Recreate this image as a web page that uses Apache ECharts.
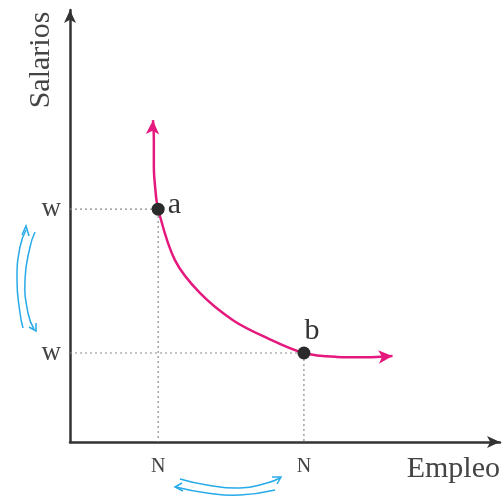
<!DOCTYPE html>
<html>
<head>
<meta charset="utf-8">
<script src="https://cdn.jsdelivr.net/npm/echarts@6/dist/echarts.min.js"></script>
<style>
  html, body { margin: 0; padding: 0; background: #fff; }
  #chart { width: 504px; height: 500px; }
</style>
</head>
<body>
<div id="chart"></div>
<script>
// demand curve (employment, wage)
const curveX = [19.3, 19.5, 19.5, 19.8, 20.5, 24.4, 30.2, 37.9, 45.8, 54.4, 62.1, 68.6, 75.0];
const curveY = [74.5, 69.9, 63.7, 59.0, 53.9, 42.1, 34.5, 28.2, 24.1, 20.6, 19.7, 19.6, 19.9];

// the two equilibrium points
const pointNames = ["a", "b"];
const pointX = [20.5, 54.4];
const pointY = [53.9, 20.6];

// tick labels
const yTickLabels = ["w", "w"];
const xTickLabels = ["N", "N"];

const serif = "Liberation Serif";
const pink = "#e5197d";
const blue = "#27aae8";

let chart = echarts.init(document.getElementById("chart"));

let curve = curveX.map((x, i) => [x, curveY[i]]);
let n = curve.length;

// guide lines from each point to the axes
let guides = pointNames.map((name, i) => ({
  type: "line",
  data: [[0, pointY[i]], [pointX[i], pointY[i]], [pointX[i], 0]],
  symbol: "none",
  silent: true,
  lineStyle: { color: "#8a8a8a", width: 1.2, type: [2, 3] },
  z: 1,
}));

// label placement for a and b
let pointLabels = [
  { position: "right", distance: 3, offset: [0, -4] },
  { position: "top", distance: 0, offset: [8, 0] },
];

chart.setOption({
  animation: false,
  grid: { left: 70, right: 4, top: 10, bottom: 58 },
  xAxis: {
    type: "value",
    min: 0,
    max: 100,
    splitLine: { show: false },
    axisTick: { show: false },
    axisLine: {
      show: true,
      symbol: ["none", "arrow"],
      symbolSize: [9, 13],
      lineStyle: { color: "#333", width: 2.5 },
    },
    axisLabel: {
      customValues: pointX,
      formatter: (v) => xTickLabels[pointX.indexOf(v)] || "",
      color: "#444",
      fontFamily: serif,
      fontSize: 20,
      margin: 15,
    },
  },
  yAxis: {
    type: "value",
    min: 0,
    max: 100,
    splitLine: { show: false },
    axisTick: { show: false },
    axisLine: {
      show: true,
      symbol: ["none", "arrow"],
      symbolSize: [9, 13],
      lineStyle: { color: "#333", width: 2.5 },
    },
    axisLabel: {
      customValues: pointY,
      formatter: (v) => yTickLabels[pointY.indexOf(v)] || "",
      color: "#444",
      fontFamily: serif,
      fontSize: 27,
      margin: 9,
    },
  },
  series: [
    ...guides,
    {
      type: "line",
      data: curve,
      smooth: 0.35,
      symbol: "none",
      lineStyle: { color: pink, width: 2.5 },
      z: 2,
    },
    {
      // arrow heads at both ends of the curve
      type: "scatter",
      data: [
        { value: curve[0], symbolRotate: -2 },
        { value: curve[n - 1], symbolRotate: -86 },
      ],
      symbol: "arrow",
      symbolSize: [10, 14],
      itemStyle: { color: pink, opacity: 1 },
      z: 3,
    },
    {
      type: "scatter",
      data: pointNames.map((name, i) => ({
        name: name,
        value: [pointX[i], pointY[i]],
        label: pointLabels[i],
      })),
      symbolSize: 13,
      itemStyle: { color: "#2b2b2b", opacity: 1 },
      label: {
        show: true,
        formatter: "{b}",
        fontFamily: serif,
        fontSize: 30,
        color: "#333",
      },
      z: 4,
    },
  ],
  graphic: [
    {
      type: "text",
      x: 41,
      y: 60,
      rotation: Math.PI / 2,
      style: {
        text: "Salarios",
        font: "30px 'Liberation Serif'",
        fill: "#444",
        align: "center",
        verticalAlign: "middle",
      },
    },
    {
      type: "text",
      x: 500,
      y: 469,
      style: {
        text: "Empleo",
        font: "30px 'Liberation Serif'",
        fill: "#444",
        align: "right",
        verticalAlign: "middle",
      },
    },
    // blue wavy arrows (decoration)
    {
      type: "polyline",
      shape: { points: [[26, 230], [20, 247], [17, 280], [20, 313], [23, 328]], smooth: 0.5 },
      style: { stroke: blue, lineWidth: 1.5, fill: null },
    },
    {
      type: "polyline",
      shape: { points: [[35, 232], [30, 247], [25, 280], [28, 313], [34, 329]], smooth: 0.5 },
      style: { stroke: blue, lineWidth: 1.5, fill: null },
    },
    {
      type: "polyline",
      shape: { points: [[22, 235], [26, 226], [29, 236]] },
      style: { stroke: blue, lineWidth: 1.5, fill: null },
    },
    {
      type: "polyline",
      shape: { points: [[29, 327], [36, 331], [36, 323]] },
      style: { stroke: blue, lineWidth: 1.5, fill: null },
    },
    {
      type: "polyline",
      shape: { points: [[180, 479], [207, 485], [240, 488], [267, 483], [280, 478]], smooth: 0.5 },
      style: { stroke: blue, lineWidth: 1.5, fill: null },
    },
    {
      type: "polyline",
      shape: { points: [[176, 487], [207, 493], [240, 495], [275, 490]], smooth: 0.5 },
      style: { stroke: blue, lineWidth: 1.5, fill: null },
    },
    {
      type: "polyline",
      shape: { points: [[272, 477], [281, 477], [277, 484]] },
      style: { stroke: blue, lineWidth: 1.5, fill: null },
    },
    {
      type: "polyline",
      shape: { points: [[182, 483], [175, 487], [183, 491]] },
      style: { stroke: blue, lineWidth: 1.5, fill: null },
    },
  ],
});
</script>
</body>
</html>
